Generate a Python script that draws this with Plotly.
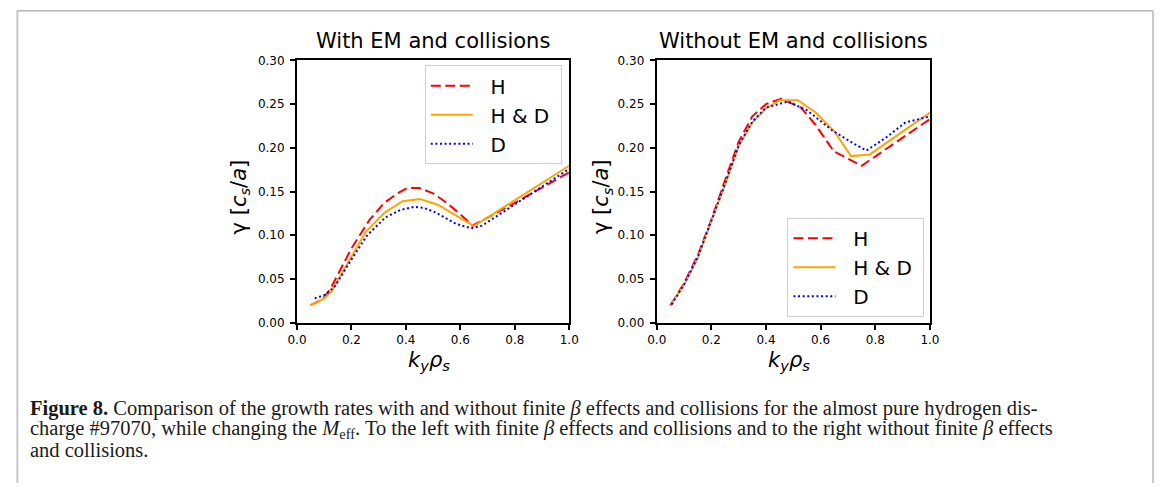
import plotly.graph_objects as go

W, H = 1167, 490

# --- growth rates with finite beta effects and collisions (left panel) ---
ky_h_em = [0.05, 0.095, 0.125, 0.2, 0.265, 0.32, 0.37, 0.405, 0.45, 0.5, 0.55, 0.6, 0.645, 0.8, 1.0]
gam_h_em = [0.020, 0.027, 0.040, 0.085, 0.117, 0.137, 0.148, 0.154, 0.154, 0.148, 0.137, 0.124, 0.111, 0.137, 0.172]

ky_hd_em = [0.05, 0.095, 0.125, 0.2, 0.253, 0.322, 0.388, 0.451, 0.517, 0.65, 1.0]
gam_hd_em = [0.020, 0.027, 0.035, 0.075, 0.104, 0.126, 0.139, 0.1415, 0.135, 0.1105, 0.1795]

ky_d_em = [0.065, 0.105, 0.14, 0.2, 0.258, 0.325, 0.38, 0.43, 0.465, 0.51, 0.585, 0.64, 0.68, 1.0]
gam_d_em = [0.028, 0.032, 0.042, 0.0725, 0.100, 0.1205, 0.129, 0.1325, 0.1315, 0.126, 0.113, 0.108, 0.111, 0.176]

# --- growth rates without finite beta effects and collisions (right panel) ---
ky_h_es = [0.05, 0.1, 0.15, 0.2, 0.25, 0.3, 0.35, 0.4, 0.455, 0.528, 0.582, 0.648, 0.75, 1.0]
gam_h_es = [0.020, 0.045, 0.077, 0.118, 0.163, 0.207, 0.236, 0.250, 0.256, 0.246, 0.226, 0.196, 0.1795, 0.233]

ky_hd_es = [0.055, 0.1, 0.15, 0.2, 0.25, 0.3, 0.35, 0.4, 0.45, 0.516, 0.582, 0.652, 0.711, 0.78, 1.0]
gam_hd_es = [0.022, 0.043, 0.074, 0.115, 0.158, 0.202, 0.229, 0.245, 0.2545, 0.2545, 0.2405, 0.218, 0.1906, 0.1925, 0.2405]

ky_d_es = [0.055, 0.1, 0.15, 0.2, 0.25, 0.3, 0.35, 0.4, 0.48, 0.55, 0.642, 0.72, 0.768, 0.84, 0.91, 1.0]
gam_d_es = [0.021, 0.044, 0.075, 0.116, 0.159, 0.203, 0.230, 0.246, 0.253, 0.243, 0.220, 0.205, 0.197, 0.212, 0.229, 0.236]

series_names = ["H", "H & D", "D"]
series_colors = ["#ff0000", "#ffa500", "#0000ff"]
series_dash = ["10px,4.5px", "solid", "2px,2.6px"]

panel_titles = ["With EM and collisions", "Without EM and collisions"]
x_ticks = [0.0, 0.2, 0.4, 0.6, 0.8, 1.0]
y_ticks = [0.00, 0.05, 0.10, 0.15, 0.20, 0.25, 0.30]

caption_lines = [
    "<b>Figure 8.</b> Comparison of the growth rates with and without finite <i>β</i> effects and collisions for the almost pure hydrogen dis-",
    "charge #97070, while changing the <i>M</i><sub>eff</sub>. To the left with finite <i>β</i> effects and collisions and to the right without finite <i>β</i> effects",
    "and collisions.",
]


def fx(x):
    return x / W


def fy(y):
    return 1 - y / H


fig = go.Figure()

panels = [
    ("x", "y", "legend", [(ky_h_em, gam_h_em), (ky_hd_em, gam_hd_em), (ky_d_em, gam_d_em)]),
    ("x2", "y2", "legend2", [(ky_h_es, gam_h_es), (ky_hd_es, gam_hd_es), (ky_d_es, gam_d_es)]),
]
for xa, ya, leg, data in panels:
    for k, ((kx, gy), name, col, dash) in enumerate(zip(data, series_names, series_colors, series_dash)):
        fig.add_trace(go.Scatter(
            x=kx, y=gy, mode="lines", name="\u00a0\u00a0" + name + "\u00a0", xaxis=xa, yaxis=ya,
            legend=leg, legendgroup=f"{leg}-{k}",
            line=dict(color=col, width=2, dash=dash),
        ))

tick_font = dict(family="DejaVu Sans", size=12, color="black")
axis_style = dict(
    showline=True, linecolor="black", linewidth=2, mirror=True,
    ticks="outside", ticklen=5, tickwidth=1.5, tickcolor="black",
    showgrid=False, zeroline=False, tickfont=tick_font,
)

left_x = (292, 569)
right_x = (658, 936)
top_y, bot_y = 55, 325

legend_style = dict(
    font=dict(family="DejaVu Sans", size=20, color="black"),
    bgcolor="white", bordercolor="#d0d0d0", borderwidth=1,
    xanchor="left", yanchor="top", itemwidth=42, tracegroupgap=0,
)

fig.update_layout(
    width=W, height=H, margin=dict(l=0, r=0, t=0, b=0),
    paper_bgcolor="white", plot_bgcolor="white",
    font=dict(family="DejaVu Sans", color="black"),
    xaxis=dict(domain=[fx(left_x[0]), fx(left_x[1])], range=[0, 1], tickvals=x_ticks,
               tickformat=".1f", anchor="y", **axis_style),
    yaxis=dict(domain=[fy(bot_y), fy(top_y)], range=[0, 0.3], tickvals=y_ticks,
               tickformat=".2f", anchor="x", ticklabelstandoff=3, **axis_style),
    xaxis2=dict(domain=[fx(right_x[0]), fx(right_x[1])], range=[0, 1], tickvals=x_ticks,
                tickformat=".1f", anchor="y2", **axis_style),
    yaxis2=dict(domain=[fy(bot_y), fy(top_y)], range=[0, 0.3], tickvals=y_ticks,
                tickformat=".2f", anchor="x2", ticklabelstandoff=3, **axis_style),
    legend=dict(x=fx(422), y=fy(60), **legend_style),
    legend2=dict(x=fx(791), y=fy(217), **legend_style),
    showlegend=True,
)

annotations = []
for (x0, x1), title in zip([left_x, right_x], panel_titles):
    cx = (x0 + x1) / 2
    annotations.append(dict(
        text=title, x=fx(cx), y=fy(35.5), xref="paper", yref="paper",
        xanchor="center", yanchor="middle", showarrow=False,
        font=dict(family="DejaVu Sans", size=21, color="black"),
    ))
    annotations.append(dict(
        text="<i>k</i><sub><i>y</i></sub><i>ρ</i><sub><i>s</i></sub>",
        x=fx(cx - 4), y=fy(364), xref="paper", yref="paper",
        xanchor="center", yanchor="middle", showarrow=False,
        font=dict(family="DejaVu Sans", size=21, color="black"),
    ))

for lx in [234, 603]:
    annotations.append(dict(
        text="γ [<i>c</i><sub><i>s</i></sub>/<i>a</i>]",
        x=fx(lx), y=fy(195), xref="paper", yref="paper", textangle=-90,
        xanchor="center", yanchor="middle", showarrow=False,
        font=dict(family="DejaVu Sans", size=21, color="black"),
    ))

for i, line in enumerate(caption_lines):
    annotations.append(dict(
        text=line, x=fx(18), y=fy(413 + 21.5 * i), xref="paper", yref="paper",
        xanchor="left", yanchor="middle", showarrow=False, align="left",
        font=dict(family="Liberation Serif", size=20.5, color="#1a1a1a"),
    ))

fig.update_layout(annotations=annotations)

# page frame around the figure
fig.update_layout(shapes=[
    dict(type="line", xref="paper", yref="paper", x0=fx(7), x1=fx(1163), y0=fy(4), y1=fy(4),
         line=dict(color="#8c8c8c", width=1)),
    dict(type="line", xref="paper", yref="paper", x0=fx(7.5), x1=fx(7.5), y0=fy(4), y1=0,
         line=dict(color="#c8c8c8", width=2)),
    dict(type="line", xref="paper", yref="paper", x0=fx(1163), x1=fx(1163), y0=fy(4), y1=0,
         line=dict(color="#c8c8c8", width=2)),
])

fig.write_html("out.html")
